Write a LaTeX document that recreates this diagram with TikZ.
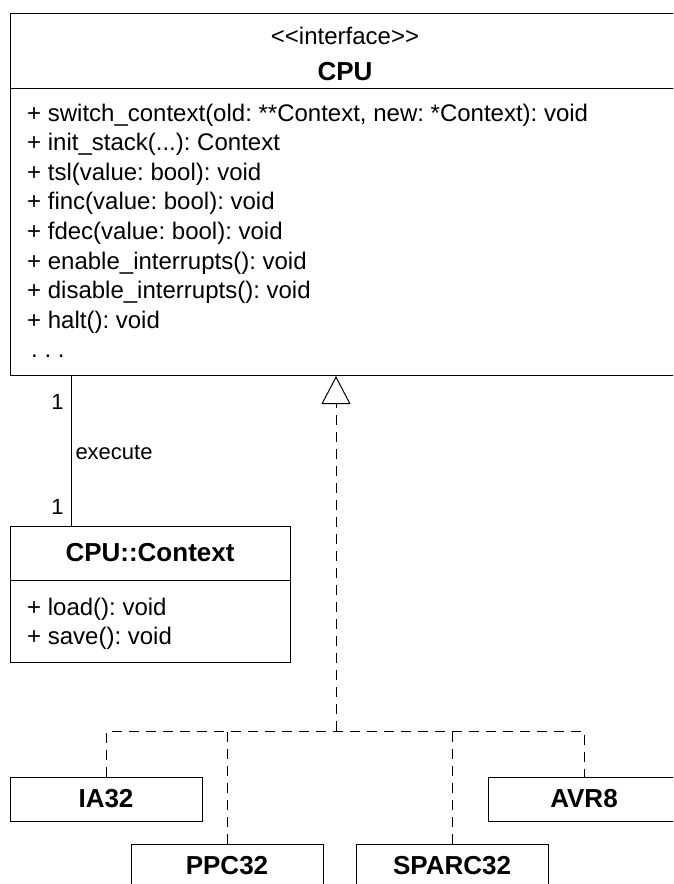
\documentclass[tikz,border=0pt]{standalone}
\usepackage{fontspec}
\setmainfont{Liberation Sans}
\frenchspacing
\usetikzlibrary{arrows.meta}

\begin{document}
\begin{tikzpicture}[x=1pt, y=1pt]
    \tikzset{box/.style={
      rectangle,
      draw,
      line width=1pt,
      inner sep=0pt,
      anchor=north west},
      txt/.style={inner sep=0pt, font=\fontsize{24}{29.6}\selectfont},
      bold/.style={inner sep=0pt, font=\fontsize{26}{30}\selectfont\bfseries},
      lbl/.style={inner sep=0pt, font=\fontsize{22}{26}\selectfont},
      cls/.style={
      rectangle,
      draw,
      line width=1pt,
      minimum width=192pt,
      minimum height=44pt,
      font=\fontsize{26}{30}\selectfont\bfseries},
      real/.style={line width=1pt, dash pattern=on 10pt off 7pt}}
    \useasboundingbox (0, 0) rectangle (673, -884);
    \clip (0, 0) rectangle (673, -884);

    \node at (10, -13) [box,minimum width=672pt,minimum height=75pt] (cpuhead) {};
    \node at (10, -88) [box,minimum width=672pt,minimum height=287pt] (cpubody) {};
    \node at (345, -36) [txt] (stereo) {<{}<interface>{}>};
    \node at (345, -72) [bold] (cpuname) {CPU};
    \node at (27, -103.5) [txt,anchor=north west,align=left] (cpumethods) {+ switch\_context(old: **Context, new: *Context): void\\
      + init\_stack(...): Context\\
      + tsl(value: bool): void\\
      + finc(value: bool): void\\
      + fdec(value: bool): void\\
      + enable\_interrupts(): void\\
      + disable\_interrupts(): void\\
      + halt(): void\\
      \hspace{4pt}. . .};

    \node at (10, -526) [box,minimum width=280pt,minimum height=54pt] (ctxhead) {};
    \node at (10, -580) [box,minimum width=280pt,minimum height=82pt] (ctxbody) {};
    \node at (150, -553) [bold] (ctxname) {CPU::Context};
    \node at (27, -597.5) [txt,anchor=north west,align=left] (ctxmethods) {+ load(): void\\+ save(): void};

    \draw[line width=1pt] ([xshift=61pt]cpubody.south west) -- ([xshift=61pt]ctxhead.north west)
      node [lbl,pos=0.17,left=7pt] {1}
      node [lbl,pos=0.51,right=4pt] {execute}
      node [lbl,pos=0.87,left=7pt] {1};

    \node at (106, -799) [cls] (ia32) {IA32};
    \node at (584, -799) [cls] (avr8) {AVR8};
    \node at (227, -866) [cls] (ppc32) {PPC32};
    \node at (452, -866) [cls] (sparc32) {SPARC32};
    \coordinate (fork) at (336, -731);

    \draw[real] (ia32.north) |- (fork) -| (avr8.north);
    \draw[real] (ppc32.north) -- (ppc32.north |- fork);
    \draw[real] (sparc32.north) -- (sparc32.north |- fork);
    \draw[real,-{Triangle[open,width=29pt,length=28pt,line width=1pt]}] (fork) -- (fork |- cpubody.south);
  \end{tikzpicture}
\end{document}
